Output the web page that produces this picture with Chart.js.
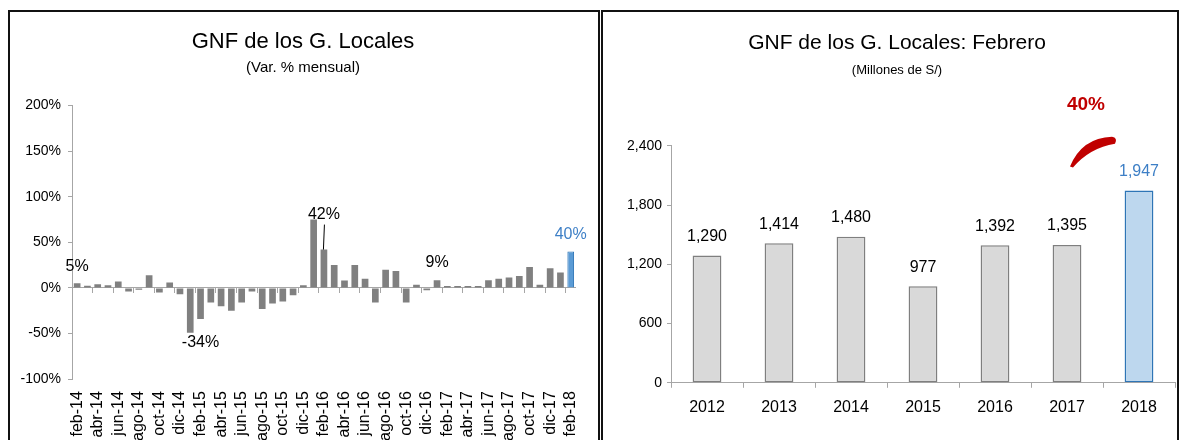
<!DOCTYPE html>
<html>
<head>
<meta charset="utf-8">
<script src="https://cdn.jsdelivr.net/npm/chart.js@4/dist/chart.umd.min.js"></script>
<style>
  body { margin: 0; width: 1180px; height: 440px; overflow: hidden; background: #fff; }
  .panel { position: absolute; top: 10px; border: 2px solid #111; background: #fff; overflow: hidden; }
  #p1 { left: 8px; width: 588px; height: 470px; }
  #p2 { left: 601px; width: 574px; height: 470px; }
  canvas { position: absolute; left: 0; top: 0; }
</style>
</head>
<body>
<div class="panel" id="p1"><canvas id="monthly" width="592" height="470"></canvas></div>
<div class="panel" id="p2"><canvas id="february" width="590" height="428"></canvas></div>
<script>
// meses feb-14 .. feb-18
var months = ['feb-14','mar-14','abr-14','may-14','jun-14','jul-14','ago-14','sep-14','oct-14','nov-14','dic-14','ene-15',
  'feb-15','mar-15','abr-15','may-15','jun-15','jul-15','ago-15','sep-15','oct-15','nov-15','dic-15','ene-16',
  'feb-16','mar-16','abr-16','may-16','jun-16','jul-16','ago-16','sep-16','oct-16','nov-16','dic-16','ene-17',
  'feb-17','mar-17','abr-17','may-17','jun-17','jul-17','ago-17','sep-17','oct-17','nov-17','dic-17','ene-18',
  'feb-18'];
// var. % mensual
var monthlyVar = [5, 2.5, 4, 3, 7, -4, -2, 14, -5, 6, -7, -49,
  -34, -16, -20, -25, -16, -4, -23, -17, -15, -8, 3, 75,
  42, 25, 8, 25, 10, -16, 20, 18.5, -16, 3.5, -2.5, 8.5,
  2, 2, 2, 2, 8.5, 10, 11.5, 13, 23, 3.5, 21.5, 17,
  40];
var noteIdx = [0, 12, 24, 35, 48];
var noteText = ['5%', '-34%', '42%', '9%', '40%'];

// febrero, millones de S/
var years = ['2012','2013','2014','2015','2016','2017','2018'];
var febValues = [1290, 1414, 1480, 977, 1392, 1395, 1947];
var growthText = '40%';

var narrow = '"Liberation Sans Narrow", "Arial Narrow", "Liberation Sans", sans-serif';
var sans = '"Liberation Sans", Arial, sans-serif';
var axisGray = '#a6a6a6';
var last = months.length - 1;

var monthlyNotes = {
  id: 'monthlyNotes',
  afterDatasetsDraw: function(chart) {
    var ctx = chart.ctx;
    var meta = chart.getDatasetMeta(0);
    var shift = [-17, 24, -35, -18, -17];
    ctx.save();
    ctx.font = '16px ' + sans;
    ctx.textAlign = 'center';
    ctx.textBaseline = 'middle';
    for (var k = 0; k < noteIdx.length; k++) {
      var bar = meta.data[noteIdx[k]];
      ctx.fillStyle = noteIdx[k] === last ? '#3d7fc6' : '#000';
      ctx.fillText(noteText[k], bar.x, bar.y + shift[k]);
      if (noteText[k] === '42%') {
        ctx.strokeStyle = '#000';
        ctx.lineWidth = 1;
        ctx.beginPath();
        ctx.moveTo(bar.x + 0.5, bar.y + shift[k] + 10);
        ctx.lineTo(bar.x - 0.5, bar.y);
        ctx.stroke();
      }
    }
    ctx.restore();
  }
};

new Chart(document.getElementById('monthly'), {
  type: 'bar',
  data: {
    labels: months,
    datasets: [{
      data: monthlyVar,
      backgroundColor: months.map(function(m, i) { return i === last ? '#5b9bd5' : '#808080'; }),
      borderColor: months.map(function(m, i) { return i === last ? '#2e75b6' : '#808080'; }),
      borderWidth: months.map(function(m, i) { return i === last ? 1 : 0; }),
      barPercentage: 0.65,
      categoryPercentage: 1
    }]
  },
  options: {
    responsive: false,
    animation: false,
    layout: { padding: { left: 2, right: 8, top: 0, bottom: 29 } },
    plugins: {
      legend: { display: false },
      tooltip: { enabled: false },
      title: {
        display: true, text: 'GNF de los G. Locales', color: '#000',
        font: { family: narrow, size: 22, weight: 'normal' },
        padding: { top: 17, bottom: 0 }
      },
      subtitle: {
        display: true, text: '(Var. % mensual)', color: '#000',
        font: { family: narrow, size: 15 },
        padding: { top: 3, bottom: 29 }
      }
    },
    scales: {
      x: {
        position: 'bottom',
        offset: true,
        grid: { display: false, drawTicks: false },
        border: { display: false },
        ticks: {
          autoSkip: false, minRotation: 90, maxRotation: 90, padding: 12,
          color: '#000', font: { family: sans, size: 16 },
          callback: function(v, i) { return i % 2 === 0 ? this.getLabelForValue(v) : ''; }
        }
      },
      x2: {
        axis: 'x',
        type: 'category',
        position: { y: 0 },
        offset: true,
        grid: {
          offset: true, drawOnChartArea: false, tickLength: 5,
          color: function(c) { return c.index % 2 === 0 ? axisGray : 'rgba(0,0,0,0)'; }
        },
        border: { color: axisGray },
        ticks: { display: false }
      },
      y: {
        min: -100, max: 200,
        ticks: {
          stepSize: 50, padding: 7, color: '#000', font: { family: sans, size: 14 },
          callback: function(v) { return v + '%'; }
        },
        grid: { drawOnChartArea: false, tickLength: 4, color: axisGray },
        border: { color: axisGray },
        afterFit: function(s) { s.width = 60; }
      }
    }
  },
  plugins: [monthlyNotes]
});

var febNotes = {
  id: 'febNotes',
  afterDatasetsDraw: function(chart) {
    var ctx = chart.ctx;
    var meta = chart.getDatasetMeta(0);
    var xs = chart.scales.x, ys = chart.scales.y;
    ctx.save();
    ctx.font = '16px ' + narrow;
    ctx.textAlign = 'center';
    ctx.textBaseline = 'middle';
    meta.data.forEach(function(bar, i) {
      ctx.fillStyle = i === febValues.length - 1 ? '#3d7fc6' : '#000';
      ctx.fillText(febValues[i].toLocaleString('en-US'), bar.x, bar.y - 19);
    });
    // flecha de crecimiento 2017 -> 2018
    var x0 = xs.getPixelForValue(5);
    var sx = x0 + 3, sy = ys.getPixelForValue(2190);
    var ex = x0 + 47, ey = ys.getPixelForValue(2440);
    ctx.fillStyle = '#c00000';
    ctx.beginPath();
    ctx.moveTo(sx, sy);
    ctx.quadraticCurveTo(sx + 12, ey - 4, ex - 2, ey - 5);
    ctx.quadraticCurveTo(ex + 4, ey - 4, ex + 1, ey + 2);
    ctx.quadraticCurveTo(sx + 20, ey + 6, sx + 3, sy + 1);
    ctx.closePath();
    ctx.fill();
    ctx.font = 'bold 19px ' + narrow;
    ctx.fillText(growthText, x0 + 19, ys.getPixelForValue(2820));
    ctx.restore();
  }
};

new Chart(document.getElementById('february'), {
  type: 'bar',
  data: {
    labels: years,
    datasets: [{
      data: febValues,
      backgroundColor: years.map(function(y, i) { return i === years.length - 1 ? '#bdd7ee' : '#d9d9d9'; }),
      borderColor: years.map(function(y, i) { return i === years.length - 1 ? '#2e75b6' : '#7f7f7f'; }),
      borderWidth: 1.5,
      borderSkipped: false,
      barPercentage: 0.4,
      categoryPercentage: 1
    }]
  },
  options: {
    responsive: false,
    animation: false,
    layout: { padding: { left: 16, right: 18, top: 0, bottom: 13 } },
    plugins: {
      legend: { display: false },
      tooltip: { enabled: false },
      title: {
        display: true, text: 'GNF de los G. Locales: Febrero', color: '#000',
        font: { family: narrow, size: 21, weight: 'normal' },
        padding: { top: 19, bottom: 0 }
      },
      subtitle: {
        display: true, text: '(Millones de S/)', color: '#000',
        font: { family: narrow, size: 13 },
        padding: { top: 6, bottom: 68 }
      }
    },
    scales: {
      x: {
        offset: true,
        grid: { offset: true, drawOnChartArea: false, tickLength: 5, color: axisGray },
        border: { color: axisGray },
        ticks: { padding: 10, color: '#000', font: { family: narrow, size: 16 } }
      },
      y: {
        min: 0, max: 2400,
        ticks: {
          stepSize: 600, padding: 5, color: '#000', font: { family: narrow, size: 14 },
          callback: function(v) { return v.toLocaleString('en-US'); }
        },
        grid: { drawOnChartArea: false, tickLength: 4, color: axisGray },
        border: { color: axisGray },
        afterFit: function(s) { s.width = 52; }
      }
    }
  },
  plugins: [febNotes]
});
</script>
</body>
</html>
